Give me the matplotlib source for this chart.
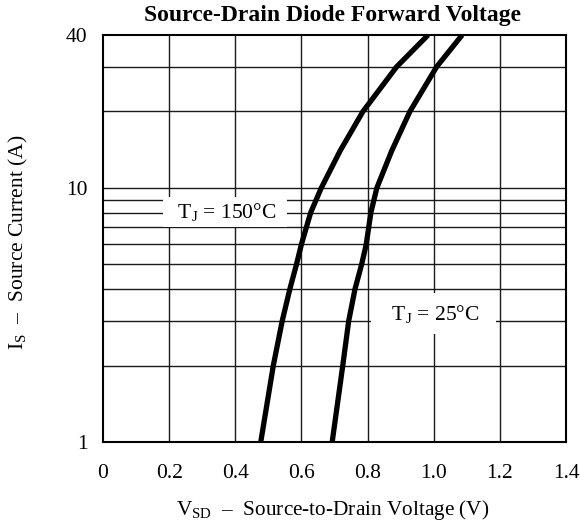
import matplotlib
matplotlib.use("Agg")
import matplotlib.pyplot as plt
from matplotlib.ticker import FixedLocator, NullFormatter, NullLocator

plt.rcParams['font.family'] = ['Liberation Serif', 'DejaVu Serif']
plt.rcParams['mathtext.fontset'] = 'custom'
plt.rcParams['mathtext.rm'] = 'Liberation Serif'
plt.rcParams['mathtext.it'] = 'Liberation Serif:italic'
plt.rcParams['mathtext.bf'] = 'Liberation Serif:bold'

# Data
current = [1, 2, 3, 4, 5, 6, 8, 10, 14, 20, 30, 40]
v_150 = [0.477, 0.515, 0.542, 0.565, 0.585, 0.600, 0.628, 0.660, 0.717, 0.786, 0.888, 0.983]
v_25 = [0.693, 0.725, 0.743, 0.762, 0.782, 0.796, 0.810, 0.828, 0.873, 0.928, 1.009, 1.086]

x_ticks = [0, 0.2, 0.4, 0.6, 0.8, 1.0, 1.2, 1.4]
x_tick_labels = ["0", "0.2", "0.4", "0.6", "0.8", "1.0", "1.2", "1.4"]
y_ticks = [1, 10, 40]
y_tick_labels = ["1", "10", "40"]
y_grid = [2, 3, 4, 5, 6, 7, 8, 9, 10, 20, 30]

fig = plt.figure(figsize=(5.8, 5.26), dpi=100)
ax = fig.add_axes([103/580, 1-442/526, (566-103)/580, (442-35)/526])

ax.set_yscale('log')
ax.set_xlim(0, 1.4)
ax.set_ylim(1, 40)

ax.xaxis.set_major_locator(FixedLocator(x_ticks))
ax.set_xticklabels(x_tick_labels)
ax.yaxis.set_major_locator(FixedLocator(y_ticks))
ax.set_yticklabels(y_tick_labels)
ax.yaxis.set_minor_locator(NullLocator())
ax.yaxis.set_minor_formatter(NullFormatter())
ax.tick_params(axis='both', length=0, labelsize=15.5)
ax.tick_params(axis='x', pad=16)
ax.tick_params(axis='y', pad=11)

for x in x_ticks[1:-1]:
    ax.axvline(x, color='#1a1a1a', lw=1.0, zorder=1)
for y in y_grid:
    ax.axhline(y, color='#1a1a1a', lw=1.0, zorder=1)

for s in ax.spines.values():
    s.set_linewidth(1.5)
    s.set_zorder(5)

ax.plot(v_150, current, color='black', lw=3.8, zorder=4, solid_capstyle='butt',
        solid_joinstyle='round')
ax.plot(v_25, current, color='black', lw=3.8, zorder=4, solid_capstyle='butt',
        solid_joinstyle='round')

ax.text(0.369, 8.05, "  T$_\\mathrm{J}$ = 150°C  ", fontsize=15.5, ha='center', va='center',
        zorder=3, bbox=dict(boxstyle='square,pad=0.2', fc='white', ec='none'))
ax.text(1.0, 3.2, "  T$_\\mathrm{J}$ = 25°C  ", fontsize=15.5, ha='center', va='center',
        zorder=3, bbox=dict(boxstyle='square,pad=0.45', fc='white', ec='none'))

fig.text(333/580, 1-16/526, "Source-Drain Diode Forward Voltage", fontsize=17,
         fontweight='bold', ha='center', va='center')
fig.text(333/580, 1-510/526, r"V$_\mathrm{SD}$  –  Source-to-Drain Voltage (V)", fontsize=15.3,
         ha='center', va='center')
fig.text(18/580, 1-242/526, r"I$_\mathrm{S}$  –  Source Current (A)", fontsize=15.5,
         ha='center', va='center', rotation=90)

fig.savefig("out.png", dpi=100)
